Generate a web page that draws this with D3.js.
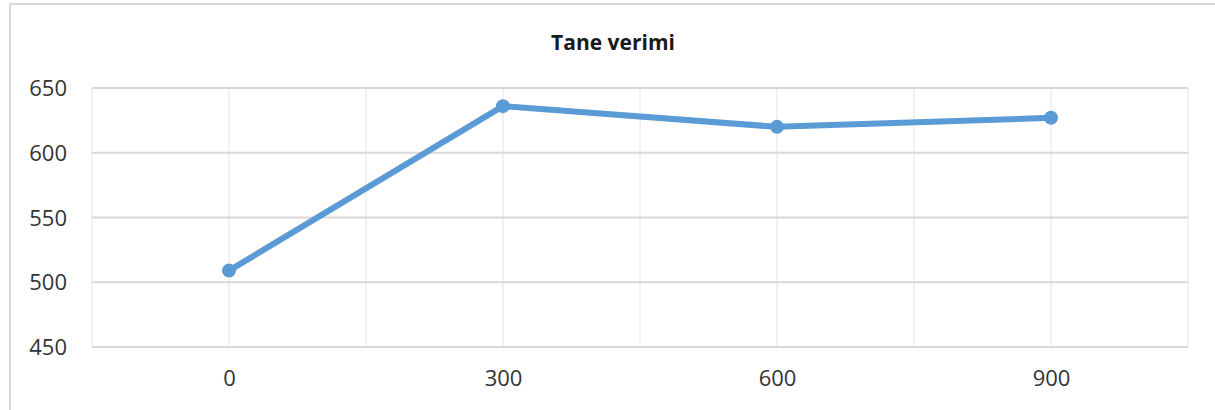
<!DOCTYPE html>
<html>
<head>
<meta charset="utf-8">
<script src="https://cdn.jsdelivr.net/npm/d3@7"></script>
<style>
  html, body { margin: 0; padding: 0; background: #fff; }
  svg { display: block; }
</style>
</head>
<body>
<svg id="chart" width="1215" height="410"></svg>
<script>
// Grain yield by dose
const title = "Tane verimi";
const doses = [0, 300, 600, 900];
const yields = [509, 636, 620, 627];
const yTicks = [450, 500, 550, 600, 650];
const xGrid = [-150, 0, 150, 300, 450, 600, 750, 900, 1050];
const xLabels = [0, 300, 600, 900];

const svg = d3.select("#chart");
const W = 1215, H = 410;
const plot = { left: 92, right: 1188, top: 88, bottom: 347 };

// chart area frame
svg.append("rect")
  .attr("x", 10).attr("y", 4)
  .attr("width", W + 20).attr("height", H + 20)
  .attr("fill", "#fff")
  .attr("stroke", "#d9d9d9").attr("stroke-width", 2);

const x = d3.scaleLinear().domain([-150, 1050]).range([plot.left, plot.right]);
const y = d3.scaleLinear().domain([450, 650]).range([plot.bottom, plot.top]);

// vertical gridlines
svg.append("g")
  .selectAll("line").data(xGrid).join("line")
  .attr("x1", d => x(d)).attr("x2", d => x(d))
  .attr("y1", plot.top).attr("y2", plot.bottom)
  .attr("stroke", "#ececec").attr("stroke-width", 1.5);

// horizontal gridlines
svg.append("g")
  .selectAll("line").data(yTicks).join("line")
  .attr("x1", plot.left).attr("x2", plot.right)
  .attr("y1", d => y(d)).attr("y2", d => y(d))
  .attr("stroke", "#d9d9d9").attr("stroke-width", 2);

// axes (labels only)
const yAxis = d3.axisLeft(y).tickValues(yTicks).tickSize(0).tickPadding(0);
const gy = svg.append("g").attr("transform", `translate(67,0)`).call(yAxis);
gy.select(".domain").remove();
gy.selectAll("text")
  .attr("font-family", "'Open Sans', sans-serif")
  .attr("font-size", 22).attr("fill", "#333333")
  .attr("dy", "0.35em");

const xAxis = d3.axisBottom(x).tickValues(xLabels).tickSize(0).tickPadding(0);
const gx = svg.append("g").attr("transform", `translate(0,370)`).call(xAxis);
gx.select(".domain").remove();
gx.selectAll("text")
  .attr("font-family", "'Open Sans', sans-serif")
  .attr("font-size", 22).attr("fill", "#333333")
  .attr("dy", "0.71em");

// title
svg.append("text")
  .attr("x", 613).attr("y", 50)
  .attr("text-anchor", "middle")
  .attr("font-family", "'Open Sans', sans-serif")
  .attr("font-weight", "bold")
  .attr("font-size", 21).attr("fill", "#1a1a1a")
  .text(title);

// series line and markers
const pts = doses.map((d, i) => [d, yields[i]]);
svg.append("path")
  .datum(pts)
  .attr("d", d3.line().x(d => x(d[0])).y(d => y(d[1])))
  .attr("fill", "none")
  .attr("stroke", "#5b9bd5")
  .attr("stroke-width", 6)
  .attr("stroke-linejoin", "round")
  .attr("stroke-linecap", "round");

svg.append("g")
  .selectAll("circle").data(pts).join("circle")
  .attr("cx", d => x(d[0])).attr("cy", d => y(d[1]))
  .attr("r", 7)
  .attr("fill", "#5b9bd5");
</script>
</body>
</html>
